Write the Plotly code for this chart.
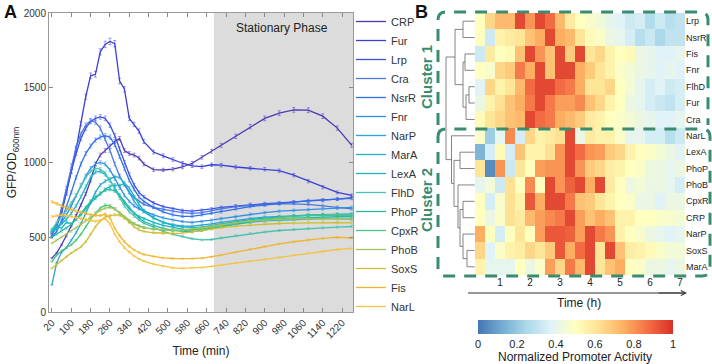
import plotly.graph_objects as go

W, H = 712, 364
FONT = "Liberation Sans, Arial, sans-serif"
GREEN = "#3a8c6e"

# ---------------- Panel A data: GFP/OD600 over time ----------------
time_min = [20, 40, 60, 80, 100, 120, 140, 160, 180, 200, 220, 240, 260, 280, 300, 320, 340, 360, 380, 400,
            440, 480, 520, 560, 600, 640, 680, 720, 780, 840, 900, 960, 1020, 1080, 1140, 1200, 1260]

crp = [360, 395, 450, 510, 575, 645, 715, 790, 880, 990, 1050, 1080, 1110, 1140, 1160, 1080, 1060, 1050, 1030, 990,
       952, 950, 955, 970, 995, 1035, 1075, 1115, 1175, 1240, 1295, 1330, 1352, 1350, 1310, 1230, 1115]
fur = [520, 575, 660, 790, 940, 1090, 1260, 1440, 1580, 1590, 1740, 1790, 1810, 1795, 1545, 1490, 1295, 1255, 1210, 1140,
       1070, 1045, 1020, 995, 978, 972, 985, 982, 970, 962, 955, 945, 915, 875, 835, 800, 780]
lrp = [530, 590, 680, 800, 940, 1060, 1160, 1230, 1275, 1295, 1305, 1295, 1250, 1180, 1090, 1000, 920, 850, 800, 770,
       730, 705, 690, 680, 675, 680, 690, 700, 710, 720, 725, 730, 735, 740, 745, 755, 765]
cra = [510, 580, 690, 830, 980, 1100, 1190, 1250, 1280, 1270, 1230, 1160, 1080, 990, 910, 850, 800, 765, 740, 720,
       700, 685, 675, 665, 660, 665, 675, 690, 705, 715, 720, 725, 725, 720, 710, 700, 690]
nsrr = [500, 540, 610, 700, 800, 900, 990, 1060, 1110, 1150, 1170, 1180, 1170, 1120, 1040, 960, 880, 820, 770, 740,
        700, 670, 650, 640, 640, 650, 660, 670, 690, 705, 715, 725, 735, 745, 750, 755, 760]
fnr = [540, 560, 600, 650, 710, 780, 850, 910, 960, 990, 1000, 990, 950, 890, 830, 780, 740, 710, 690, 675,
       650, 630, 615, 605, 600, 605, 615, 625, 640, 655, 665, 675, 680, 685, 690, 695, 700]
narp = [181, 330, 400, 430, 480, 530, 590, 660, 740, 800, 850, 875, 890, 905, 900, 860, 800, 740, 700, 670,
        630, 600, 585, 575, 575, 580, 590, 600, 615, 625, 635, 640, 645, 648, 650, 650, 648]
mara = [530, 560, 590, 620, 660, 710, 770, 840, 900, 935, 940, 920, 880, 830, 780, 730, 690, 660, 640, 625,
        600, 580, 565, 555, 550, 555, 565, 575, 590, 600, 610, 615, 620, 625, 625, 625, 622]
lexa = [545, 575, 560, 600, 590, 620, 650, 690, 730, 760, 790, 820, 840, 850, 845, 860, 830, 770, 720, 680,
        630, 600, 580, 570, 565, 570, 580, 590, 605, 618, 628, 636, 642, 648, 652, 655, 656]
flhd = [555, 600, 640, 680, 730, 780, 840, 900, 940, 960, 955, 930, 880, 820, 760, 710, 670, 640, 615, 595,
        565, 540, 520, 505, 490, 482, 485, 495, 510, 525, 535, 545, 552, 558, 563, 568, 572]
phop = [500, 520, 540, 560, 585, 620, 660, 700, 740, 770, 795, 815, 820, 810, 780, 740, 700, 660, 630, 605,
        580, 560, 548, 540, 538, 545, 558, 572, 590, 605, 615, 622, 628, 632, 635, 637, 638]
cpxr = [337, 380, 410, 430, 450, 480, 520, 570, 620, 660, 695, 715, 710, 690, 660, 630, 605, 590, 575, 565,
        555, 548, 545, 545, 548, 555, 565, 578, 595, 610, 622, 632, 640, 646, 650, 652, 652]
phob = [460, 480, 500, 520, 540, 560, 585, 610, 635, 660, 680, 695, 700, 690, 665, 635, 610, 590, 575, 565,
        555, 550, 548, 550, 555, 565, 575, 585, 598, 608, 615, 620, 623, 625, 626, 625, 622]
soxs = [292, 320, 345, 370, 395, 415, 435, 470, 520, 570, 610, 635, 645, 650, 648, 630, 600, 570, 550, 540,
        530, 525, 525, 528, 535, 545, 555, 565, 575, 582, 588, 592, 595, 597, 598, 598, 596]
fis = [738, 725, 710, 695, 685, 675, 668, 660, 652, 645, 645, 655, 630, 560, 510, 470, 440, 415, 398, 385,
       372, 362, 358, 356, 357, 360, 368, 380, 400, 420, 438, 455, 470, 483, 493, 500, 495]
narl = [638, 645, 650, 645, 638, 630, 625, 618, 612, 608, 612, 625, 590, 520, 470, 430, 400, 375, 355, 340,
        320, 305, 295, 292, 294, 298, 305, 315, 328, 340, 352, 365, 380, 395, 408, 418, 425]

line_names = ["CRP", "Fur", "Lrp", "Cra", "NsrR", "Fnr", "NarP", "MarA", "LexA", "FlhD",
              "PhoP", "CpxR", "PhoB", "SoxS", "Fis", "NarL"]
line_values = [crp, fur, lrp, cra, nsrr, fnr, narp, mara, lexa, flhd, phop, cpxr, phob, soxs, fis, narl]
line_colors = ["#4b3ab5", "#3a3fd6", "#3d4fe6", "#4a78e0", "#2f6fe8", "#2d8fe6", "#2aa4d0", "#1fb2c9",
               "#19b5c0", "#4cc2b0", "#25bba0", "#4bc583", "#a3c25c", "#cdbd35", "#efb52e", "#f5c342"]
x_ticks = [20, 100, 180, 260, 340, 420, 500, 580, 660, 740, 820, 900, 980, 1060, 1140, 1220]
stationary_start = 690

# ---------------- Panel B data: normalized promoter activity ----------------
bin_minutes = [20, 40, 60, 80, 100, 120, 140, 160, 180, 200, 220, 240, 260, 280, 300, 320, 340, 360, 380, 400, 420]
hm_rows = ["Lrp", "NsrR", "Fis", "Fnr", "FlhD", "Fur", "Cra", "NarL", "LexA", "PhoP", "PhoB",
           "CpxR", "CRP", "NarP", "SoxS", "MarA"]
act_lrp = [.50, .65, .72, .72, .95, .80, .95, .88, .72, .58, .50, .47, .44, .40, .38, .33, .35, .27, .33, .28, .30]
act_nsrr = [.50, .33, .55, .58, .60, .70, .75, .95, .75, .72, .60, .52, .48, .42, .40, .35, .28, .32, .25, .30, .30]
act_fis = [.33, .58, .50, .52, .70, .95, .80, .70, .95, .68, .95, .60, .65, .55, .50, .52, .42, .40, .38, .38, .40]
act_fnr = [.50, .47, .65, .68, .85, .75, .95, .70, .95, .95, .75, .68, .60, .55, .48, .45, .42, .40, .38, .40, .38]
act_flhd = [.38, .65, .55, .60, .72, .88, .95, .95, .88, .85, .75, .60, .60, .65, .50, .45, .40, .35, .38, .33, .35]
act_fur = [.42, .55, .62, .70, .75, .85, .95, .85, .78, .78, .82, .70, .65, .55, .50, .42, .40, .35, .32, .30, .35]
act_cra = [.52, .60, .65, .70, .72, .95, .88, .85, .75, .72, .68, .58, .55, .50, .48, .45, .42, .40, .38, .38, .40]
act_narl = [.48, .22, .40, .82, .35, .65, .55, .58, .62, .95, .42, .58, .55, .55, .48, .40, .40, .35, .35, .28, .33]
act_lexa = [.15, .35, .52, .35, .70, .55, .55, .62, .80, .95, .88, .80, .78, .68, .65, .55, .50, .48, .45, .42, .38]
act_phop = [.60, .05, .80, .32, .60, .50, .78, .80, .80, .95, .80, .68, .65, .57, .55, .50, .48, .43, .42, .40, .42]
act_phob = [.40, .45, .33, .62, .50, .82, .50, .95, .80, .90, .95, .75, .95, .58, .50, .43, .45, .42, .42, .40, .35]
act_cpxr = [.50, .35, .47, .62, .55, .92, .75, .95, .95, .85, .70, .68, .60, .55, .50, .48, .42, .42, .38, .42, .42]
act_crp = [.50, .42, .48, .62, .58, .72, .78, .82, .85, .95, .78, .70, .75, .70, .55, .55, .50, .50, .48, .47, .45]
act_narp = [.75, .50, .35, .50, .60, .50, .78, .92, .92, .90, .78, .95, .85, .80, .55, .50, .47, .42, .40, .38, .40]
act_soxs = [.65, .38, .48, .55, .57, .65, .60, .68, .92, .75, .88, .95, .60, .95, .70, .57, .55, .52, .48, .45, .45]
act_mara = [.55, .40, .40, .40, .50, .42, .48, .78, .65, .85, .72, .95, .60, .70, .75, .50, .48, .42, .42, .40, .42]
activity = [act_lrp, act_nsrr, act_fis, act_fnr, act_flhd, act_fur, act_cra, act_narl, act_lexa, act_phop,
            act_phob, act_cpxr, act_crp, act_narp, act_soxs, act_mara]
hour_ticks = [1, 2, 3, 4, 5, 6, 7]
cbar_ticks = [0, 0.2, 0.4, 0.6, 0.8, 1]

# dendrogram: (node, left child, right child, merge distance); leaves are row indices
dendro_merges = [
    ("A", 0, 1, 12), ("B", 2, 3, 10), ("C", 4, 5, 6), ("D", "C", 6, 9), ("E", "B", "D", 12),
    ("F", "A", "E", 20),
    ("G", 8, 9, 15), ("H", 11, 12, 12), ("I", 14, 15, 8), ("J", 13, "I", 12), ("K", "H", "J", 15),
    ("L", 10, "K", 17), ("M", "G", "L", 21), ("N", 7, "M", 23.5), ("R", "F", "N", 29),
]

# ---------------- helpers ----------------
def px(xp):
    return xp / W


def py(yp):
    return 1 - yp / H


fig = go.Figure()

# ---- Panel A lines ----
for name, vals, col in zip(line_names, line_values, line_colors):
    fig.add_trace(go.Scatter(
        x=time_min, y=vals, mode="lines", name=name,
        line=dict(color=col, width=1.3),
        error_y=dict(type="percent", value=1.2, thickness=0.5, width=1.5, color=col),
        xaxis="x", yaxis="y",
    ))

# ---- Panel B heatmap ----
hm_hours = [m / 60 for m in bin_minutes]
colorscale = [[0, "#4575b4"], [0.125, "#74add1"], [0.25, "#abd9e9"], [0.375, "#e0f3f8"],
              [0.5, "#ffffbf"], [0.625, "#fee090"], [0.75, "#fdae61"], [0.875, "#f46d43"], [1, "#d73027"]]
fig.add_trace(go.Heatmap(
    z=activity, x=hm_hours, y=list(range(len(hm_rows))), xaxis="x2", yaxis="y2",
    colorscale=colorscale, zmin=0, zmax=1, showscale=True,
    colorbar=dict(orientation="h", x=575.5 / W, xanchor="center", y=py(320), yanchor="top",
                  len=195 / W, lenmode="fraction", thickness=14, xpad=0, ypad=0,
                  outlinewidth=0, ticks="", tickvals=cbar_ticks,
                  ticktext=["0", "0.2", "0.4", "0.6", "0.8", "1"],
                  tickfont=dict(size=11, color="#222")),
))

# ---- dendrogram ----
nodes = {i: (i, 0.3) for i in range(len(hm_rows))}
dx, dy = [], []
for nm, a, b, d in dendro_merges:
    ya, da = nodes[a]
    yb, db = nodes[b]
    dx += [da, d, d, db, None]
    dy += [ya, ya, yb, yb, None]
    nodes[nm] = ((ya + yb) / 2, d)
fig.add_trace(go.Scatter(x=dx, y=dy, mode="lines", line=dict(color="#666", width=0.8),
                         xaxis="x3", yaxis="y2", showlegend=False, hoverinfo="skip"))

# ---------------- layout ----------------
axis_font = dict(size=10, color="#333")
fig.update_layout(
    width=W, height=H, margin=dict(l=0, r=0, t=0, b=0, autoexpand=False),
    paper_bgcolor="white", plot_bgcolor="white",
    font=dict(family=FONT, size=11, color="#222"),
    xaxis=dict(domain=[px(49), px(353)], range=[8, 1265], tickvals=x_ticks, tickangle=-45,
               ticks="inside", ticklen=4, tickcolor="#888", showline=True, linecolor="#999",
               mirror="ticks", showgrid=False, zeroline=False, tickfont=axis_font, automargin=False,
               title=dict(text="Time (min)", font=dict(size=12, color="#222"), standoff=6),
               anchor="y"),
    yaxis=dict(domain=[py(312), py(13)], range=[0, 2000], tickvals=[0, 500, 1000, 1500, 2000],
               ticks="inside", ticklen=4, tickcolor="#888", showline=True, linecolor="#999",
               mirror="ticks", showgrid=False, zeroline=False, tickfont=axis_font, automargin=False,
               title=dict(text="GFP/OD<sub>600nm</sub>", font=dict(size=12, color="#222"), standoff=4),
               anchor="x"),
    xaxis2=dict(domain=[px(475), px(685)], range=[1 / 6, 43 / 6], tickvals=hour_ticks, ticks="",
                showline=False, showgrid=False, zeroline=False, tickfont=dict(size=10, color="#222"),
                automargin=False, anchor="y2"),
    yaxis2=dict(domain=[py(275), py(13)], range=[len(hm_rows) - 0.5, -0.5],
                tickvals=list(range(len(hm_rows))), ticktext=hm_rows, side="right", ticks="",
                showline=False, showgrid=False, zeroline=False, tickfont=dict(size=9, color="#222"),
                automargin=False, anchor="x2"),
    xaxis3=dict(domain=[px(430), px(475)], range=[45, 0], visible=False, automargin=False, anchor="y2"),
    legend=dict(x=px(351), y=py(7), xanchor="left", yanchor="top", bgcolor="rgba(0,0,0,0)",
                font=dict(size=11, color="#333"), tracegroupgap=0, itemwidth=30),
    showlegend=True,
)

shapes = [dict(type="rect", xref="x", yref="y domain", x0=stationary_start, x1=1265, y0=0, y1=1,
               fillcolor="#dcdcdc", line=dict(width=0), layer="below")]


def rpath(points):
    out = []
    for cmd, pts in points:
        coords = " ".join(f"{px(a):.5f},{py(b):.5f}" for a, b in pts)
        out.append(cmd + coords)
    return " ".join(out)


r = 8
x0, x1, y0, y1 = 438, 708, 12, 129
c1 = rpath([("M", [(x0, y1 - 4)]), ("L", [(x0, y0 + r)]), ("Q", [(x0, y0), (x0 + r, y0)]),
            ("L", [(x1 - r, y0)]), ("Q", [(x1, y0), (x1, y0 + r)]), ("L", [(x1, y1 - 4)])])
x0, x1, y0, y1 = 438, 710, 129, 276
c2 = rpath([("M", [(x0, y0 + r)]), ("Q", [(x0, y0), (x0 + r, y0)]), ("L", [(x1 - r, y0)]),
            ("Q", [(x1, y0), (x1, y0 + r)]), ("L", [(x1, y1 - r)]), ("Q", [(x1, y1), (x1 - r, y1)]),
            ("L", [(x0 + r, y1)]), ("Q", [(x0, y1), (x0, y1 - r)]), ("L", [(x0, y0 + r)])])
for p in (c1, c2):
    shapes.append(dict(type="path", xref="paper", yref="paper", path=p,
                       line=dict(color=GREEN, width=3, dash="12px,9px")))
# time arrow shaft under the heatmap
shapes.append(dict(type="line", xref="paper", yref="paper", x0=px(468), x1=px(684), y0=py(293), y1=py(293),
                   line=dict(color="#333", width=1)))
fig.update_layout(shapes=shapes)


def note(text, xp, yp, size, color="#222", angle=0):
    return dict(text=text, x=px(xp), y=py(yp), xref="paper", yref="paper", xanchor="center",
                yanchor="middle", showarrow=False, textangle=angle, font=dict(size=size, color=color))


annotations = [
    note("<b>A</b>", 10, 12, 18, "#111"),
    note("<b>B</b>", 422, 12, 18, "#111"),
    dict(text="Stationary Phase", x=970, y=1900, xref="x", yref="y", xanchor="center",
         yanchor="middle", showarrow=False, font=dict(size=12, color="#222")),
    note("<b>Cluster 1</b>", 426, 77, 15, GREEN, -90),
    note("<b>Cluster 2</b>", 426, 200, 15, GREEN, -90),
    note("Time (h)", 579, 303, 12),
    note("Normalized Promoter Activity", 575, 357, 12),
    dict(text="", x=px(687), y=py(293), xref="paper", yref="paper", ax=-30, ay=0,
         showarrow=True, arrowhead=5, arrowsize=1, arrowwidth=1, arrowcolor="#333"),
]
fig.update_layout(annotations=annotations)

fig.write_html("out.html", config={"displayModeBar": False},
               post_script="document.body.style.margin='0';document.body.style.overflow='hidden';")
